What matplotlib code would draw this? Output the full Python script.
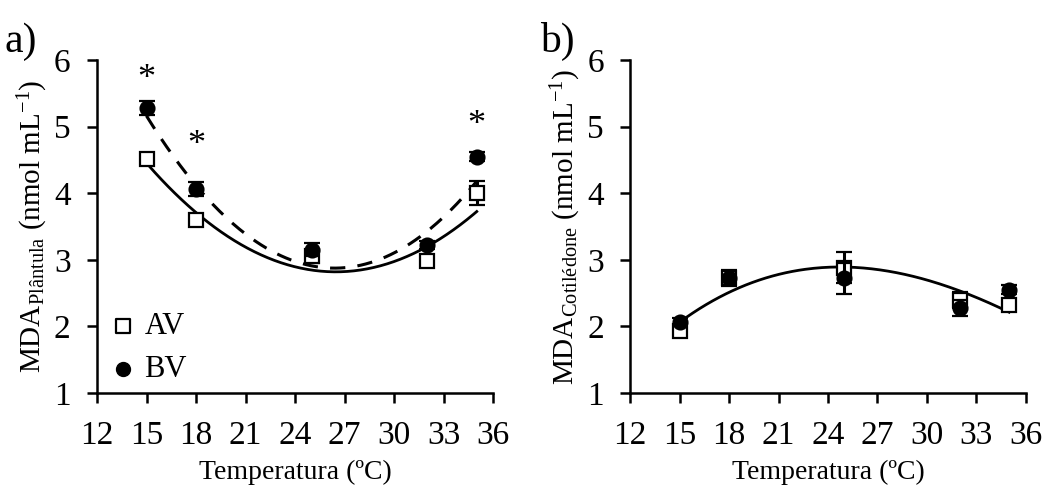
import numpy as np
import matplotlib
matplotlib.use("Agg")
import matplotlib.pyplot as plt

plt.rcParams['font.family'] = ['Liberation Serif', 'DejaVu Serif']
plt.rcParams['mathtext.fontset'] = 'custom'
plt.rcParams['mathtext.rm'] = 'Liberation Serif'
plt.rcParams['mathtext.it'] = 'Liberation Serif:italic'

# Temperatures (ºC)
temps = [15, 18, 25, 32, 35]
xticks = [12, 15, 18, 21, 24, 27, 30, 33, 36]
yticks = [1, 2, 3, 4, 5, 6]

# a) MDA in seedlings
av_a = [4.52, 3.60, 3.05, 2.98, 4.00]
av_a_err = [0.05, 0.08, 0.10, 0.05, 0.18]
bv_a = [5.28, 4.06, 3.15, 3.22, 4.55]
bv_a_err = [0.10, 0.10, 0.10, 0.06, 0.07]
# significant differences between AV and BV, and the height of each mark
signif_a = [15, 18, 35]
signif_a_y = [5.70, 4.72, 5.02]
# readings of the fitted quadratic trends
trend_av_a = [4.45, 3.71, 2.85, 3.19, 3.73]
trend_bv_a = [5.15, 4.13, 2.90, 3.43, 4.18]

# b) MDA in cotyledons
av_b = [1.93, 2.72, 2.88, 2.40, 2.32]
av_b_err = [0.05, 0.10, 0.23, 0.12, 0.07]
bv_b = [2.07, 2.72, 2.72, 2.27, 2.55]
bv_b_err = [0.05, 0.12, 0.23, 0.12, 0.07]
# readings of the fitted cubic trend
trend_b_x = [15, 18, 25.5, 32, 35]
trend_b_y = [2.07, 2.50, 2.90, 2.52, 2.22]

fig = plt.figure(figsize=(10.54, 4.95), dpi=100)
ax_a = fig.add_axes([0.092, 0.206, 0.376, 0.673])
ax_b = fig.add_axes([0.598, 0.206, 0.375, 0.673])

FS = 24
LW = 1.8


def style(ax):
    for s in ['top', 'right']:
        ax.spines[s].set_visible(False)
    for s in ['left', 'bottom']:
        ax.spines[s].set_linewidth(LW)
    ax.set_xlim(12, 36)
    ax.set_ylim(1, 6)
    ax.set_xticks(xticks)
    ax.set_yticks(yticks)
    ax.tick_params(direction='out', length=7, width=LW, labelsize=FS)
    ax.tick_params(axis='x', pad=13)
    ax.tick_params(axis='y', pad=12)
    ax.set_xlabel('Temperatura (ºC)', fontsize=20, labelpad=6)


def series(ax, y, err, filled, z):
    ax.errorbar(temps, y, yerr=err, fmt='o' if filled else 's',
                ms=10,
                mfc='black' if filled else 'white', mec='black', mew=1.6,
                ecolor='black', elinewidth=2.2, capsize=6, capthick=3,
                zorder=z, clip_on=False)


# panel a
style(ax_a)
xs = np.linspace(15, 35, 200)
pa = np.polyfit(temps, trend_av_a, 2)
pb = np.polyfit(temps, trend_bv_a, 2)
ax_a.plot(xs, np.polyval(pa, xs), color='black', lw=2.0, zorder=2)
ax_a.plot(xs, np.polyval(pb, xs), color='black', lw=2.2, ls=(0, (5, 4)), zorder=2)
series(ax_a, av_a, av_a_err, False, 3)
series(ax_a, bv_a, bv_a_err, True, 4)
for t, ys in zip(signif_a, signif_a_y):
    ax_a.text(t, ys, '*', ha='center', va='center', fontsize=26)
ax_a.set_ylabel(r'MDA$_{\mathrm{Plântula}}$ (nmol mL$^{-1}$)', fontsize=21,
                labelpad=3)

h_av = ax_a.scatter([], [], marker='s', s=100, facecolor='white',
                    edgecolor='black', linewidth=1.6)
h_bv = ax_a.scatter([], [], marker='o', s=100, facecolor='black',
                    edgecolor='black')
ax_a.legend([h_av, h_bv], ['AV', 'BV'], loc='lower left', frameon=False,
            fontsize=22, handletextpad=0.05, borderaxespad=0.0,
            labelspacing=0.45, bbox_to_anchor=(-0.015, -0.01), handlelength=1.3)

# panel b
style(ax_b)
pc = np.polyfit(trend_b_x, trend_b_y, 3)
ax_b.plot(xs, np.polyval(pc, xs), color='black', lw=2.0, zorder=2)
series(ax_b, av_b, av_b_err, False, 3)
series(ax_b, bv_b, bv_b_err, True, 4)
ax_b.set_ylabel(r'MDA$_{\mathrm{Cotilédone}}$ (nmol mL$^{-1}$)', fontsize=21,
                labelpad=3)

fig.text(0.004, 0.955, 'a)', fontsize=30, va='top')
fig.text(0.512, 0.955, 'b)', fontsize=30, va='top')

fig.savefig('out.png', dpi=100)
